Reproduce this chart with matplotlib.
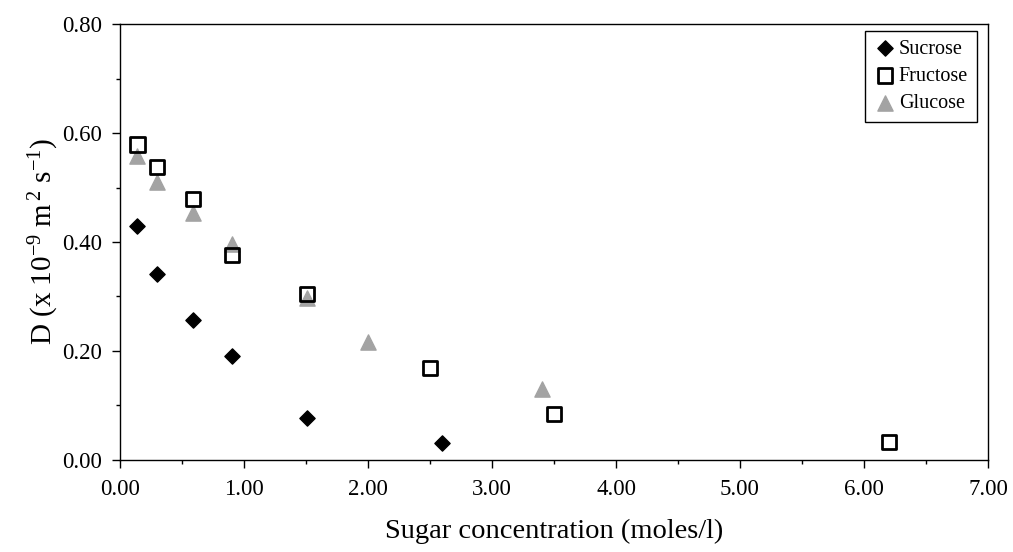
import matplotlib
matplotlib.use("Agg")
import matplotlib.pyplot as plt
from matplotlib.ticker import MultipleLocator, FormatStrFormatter

plt.rcParams['font.family'] = ['Liberation Serif', 'DejaVu Serif']
plt.rcParams['mathtext.fontset'] = 'custom'
plt.rcParams['mathtext.rm'] = 'Liberation Serif'
plt.rcParams['mathtext.it'] = 'Liberation Serif:italic'

sucrose_x = [0.14, 0.30, 0.59, 0.90, 1.51, 2.60]
sucrose_y = [0.43, 0.342, 0.257, 0.190, 0.077, 0.032]

fructose_x = [0.14, 0.30, 0.59, 0.90, 1.51, 2.50, 3.50, 6.20]
fructose_y = [0.579, 0.538, 0.479, 0.376, 0.304, 0.169, 0.085, 0.033]

glucose_x = [0.14, 0.30, 0.59, 0.90, 1.51, 2.00, 3.40]
glucose_y = [0.557, 0.510, 0.453, 0.397, 0.297, 0.216, 0.131]

xlabel = "Sugar concentration (moles/l)"
ylabel = r"D (x 10$^{-9}$ m$^{\,2}$ s$^{-1}$)"

fig = plt.figure(figsize=(10.13, 5.52), dpi=100)
ax = fig.add_axes([0.1185, 0.1667, 0.8568, 0.7898])

ax.scatter(sucrose_x, sucrose_y, marker='D', s=60, color='black', label='Sucrose', zorder=3)
ax.scatter(fructose_x, fructose_y, marker='s', s=105, facecolor='none', edgecolor='black',
           linewidths=2.0, label='Fructose', zorder=3)
ax.scatter(glucose_x, glucose_y, marker='^', s=120, color='#a3a3a3', label='Glucose', zorder=2)

ax.set_xlim(0, 7)
ax.set_ylim(0, 0.8)
ax.xaxis.set_major_locator(MultipleLocator(1.0))
ax.xaxis.set_minor_locator(MultipleLocator(0.5))
ax.yaxis.set_major_locator(MultipleLocator(0.2))
ax.yaxis.set_minor_locator(MultipleLocator(0.1))
ax.xaxis.set_major_formatter(FormatStrFormatter('%.2f'))
ax.yaxis.set_major_formatter(FormatStrFormatter('%.2f'))
ax.tick_params(which='major', direction='out', length=6, width=1, labelsize=16.5)
ax.tick_params(axis='x', which='major', pad=8)
ax.tick_params(axis='y', which='major', pad=7)
ax.tick_params(which='minor', direction='out', length=3, width=1)
for s in ax.spines.values():
    s.set_linewidth(1.0)

ax.set_xlabel(xlabel, fontsize=20.5, labelpad=13)
ax.set_ylabel(ylabel, fontsize=21, labelpad=1)

leg = ax.legend(loc='upper right', bbox_to_anchor=(0.9875, 0.985), fontsize=14.5,
                frameon=True, fancybox=False, edgecolor='black', framealpha=1,
                handletextpad=0.15, borderpad=0.45, labelspacing=0.4, handlelength=1.1,
                scatterpoints=1, borderaxespad=0)
leg.get_frame().set_linewidth(1.0)

fig.savefig('out.png', dpi=100)
